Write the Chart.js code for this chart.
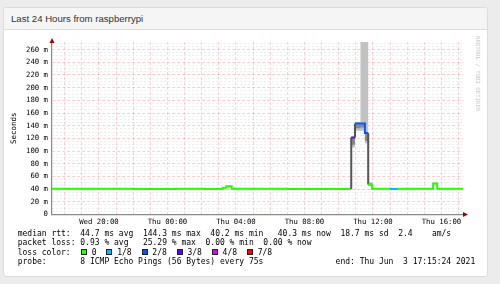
<!DOCTYPE html>
<html>
<head>
<meta charset="utf-8">
<script src="https://cdn.jsdelivr.net/npm/chart.js@4.4.0/dist/chart.umd.min.js"></script>
<style>
  html, body { margin: 0; padding: 0; }
  body { width: 500px; height: 284px; overflow: hidden; background: #ececec; position: relative; font-family: "Liberation Sans", Arial, sans-serif; }
  #card { position: absolute; left: 3px; top: 7px; width: 483px; height: 268px; background: #fff; border: 1px solid #dcdcdc; border-radius: 3px; }
  #head { height: 21px; line-height: 21px; background: #f5f5f5; border-bottom: 1px solid #dcdcdc; padding-left: 7px; font-size: 9.6px; color: #333; border-radius: 3px 3px 0 0; }
  #c { position: absolute; left: 0; top: 0; }
  .txt { position: absolute; left: 17.7px; margin: 0; font: 8px "DejaVu Sans Mono", monospace; line-height: 9.5px; color: #000; white-space: pre; }
  .box { display: inline-block; width: 4px; height: 4px; border: 1px solid #222; vertical-align: 0px; margin-right: 4.7px; }
  .item { margin-right: 10px; }
</style>
</head>
<body>
<div id="card"><div id="head">Last 24 Hours from raspberrypi</div></div>
<canvas id="c" width="500" height="284"></canvas>
<pre class="txt" style="top:228.5px">median rtt:  44.7 ms avg  144.3 ms max  40.2 ms min   40.3 ms now  18.7 ms sd  2.4    am/s</pre>
<pre class="txt" style="top:238px">packet loss: 0.93 % avg   25.29 % max  0.00 % min  0.00 % now</pre>
<div class="txt" style="top:247.5px">loss color:<span id="lossLegend" style="margin-left:10.3px"></span></div>
<pre class="txt" style="top:257px">probe:       8 ICMP Echo Pings (56 Bytes) every 75s               end: Thu Jun  3 17:15:24 2021</pre>
<script>
// x is hours since Wed 00:00, graph ends Thu 17:15:24
const startHour = 17 + 15 / 60 + 24 / 3600;
const endHour = startHour + 24;
const labelHours = [20, 24, 28, 32, 36, 40];
const labelText = ['Wed 20:00', 'Thu 00:00', 'Thu 04:00', 'Thu 08:00', 'Thu 12:00', 'Thu 16:00'];

// loss legend
const lossKeys = [0, 1, 2, 3, 4, 7];
const lossLabels = ['0', '1/8', '2/8', '3/8', '4/8', '7/8'];
const lossColors = ['#26ff00', '#00b8ff', '#0059ff', '#5e00ff', '#dd00ff', '#ff0000'];

// each step lasts until the next start (ms)
const stepStart = [startHour, 18.3, 20.4, 22.0, 24.5, 26.2, 27.22, 27.44, 27.75, 28.5, 31.0,
  34.73, 34.95, 35.27, 35.53, 35.72, 35.94, 37.0, 37.47, 39.51, 39.75];
const median = [40.8, 40.5, 40.7, 40.4, 40.6, 40.4, 42.0, 44.5, 40.8, 40.5, 40.3,
  121.5, 143.5, 143.5, 128.7, 47.5, 40.5, 40.4, 40.6, 49.0, 40.5];
const lossEighths = [0, 0, 0, 0, 0, 0, 0, 0, 0, 0, 0, 3, 2, 2, 2, 0, 0, 1, 0, 0, 0];
const smokeLo = [39.9, 39.7, 39.9, 39.6, 39.8, 39.6, 41.2, 43.5, 40.0, 39.7, 39.5,
  106, 132, 132, 112, 44.5, 39.7, 39.6, 39.8, 47, 39.7];
const smokeHi = [41.8, 41.4, 41.6, 41.3, 41.5, 41.3, 43, 45.5, 41.8, 41.4, 41.2,
  123, 146, 276, 276, 51, 41.4, 41.3, 41.5, 50.5, 41.4];
const coreLo = [40.4, 40.1, 40.3, 40.0, 40.2, 40.0, 41.6, 44.1, 40.4, 40.1, 39.9,
  110, 136, 137, 116, 46, 40.1, 40.0, 40.2, 48.2, 40.1];
const coreHi = [41.2, 40.9, 41.1, 40.8, 41.0, 40.8, 42.4, 44.9, 41.2, 40.9, 40.7,
  121, 142, 142, 128, 49, 40.9, 40.8, 41.0, 49.8, 40.9];

const lossColor = l => lossColors[lossKeys.indexOf(l)];

function stepPoints(values) {
  const pts = [];
  for (let i = 0; i < stepStart.length; i++) {
    const to = i + 1 < stepStart.length ? stepStart[i + 1] : endHour;
    pts.push({x: stepStart[i], y: values[i]}, {x: to, y: values[i]});
  }
  return pts;
}

const gridHours = [];
for (let h = Math.ceil(startHour); h <= endHour; h++) gridHours.push(h);
const yGrid = [];
for (let v = 0; v <= 270; v += 5) yGrid.push(v);

// legend boxes
const lg = document.getElementById('lossLegend');
lossLabels.forEach((t, i) => {
  lg.insertAdjacentHTML('beforeend',
    '<span class="box" style="background:' + lossColors[i] + '"></span><span class="item">' + t + '</span>');
});

const tickFont = {family: 'DejaVu Sans Mono', size: 7.3};

const decor = {
  id: 'decor',
  afterDraw(chart) {
    const {ctx, chartArea: a} = chart;
    ctx.save();
    ctx.fillStyle = '#a00000';
    ctx.beginPath();
    ctx.moveTo(a.left, a.top - 4);
    ctx.lineTo(a.left - 2.5, a.top + 1);
    ctx.lineTo(a.left + 2.5, a.top + 1);
    ctx.closePath();
    ctx.fill();
    ctx.beginPath();
    ctx.moveTo(a.right + 5, a.bottom);
    ctx.lineTo(a.right, a.bottom - 2.5);
    ctx.lineTo(a.right, a.bottom + 2.5);
    ctx.closePath();
    ctx.fill();
    ctx.translate(477.7, 36);
    ctx.rotate(Math.PI / 2);
    ctx.fillStyle = '#c4c4c4';
    ctx.font = '5.7px "DejaVu Sans Mono"';
    ctx.textBaseline = 'middle';
    ctx.fillText('RRDTOOL / TOBI OETIKER', 0, 0);
    ctx.restore();
  }
};

new Chart(document.getElementById('c'), {
  type: 'line',
  data: {
    datasets: [
      {
        label: 'median rtt',
        data: stepPoints(median),
        order: 0,
        borderWidth: 2,
        borderColor: lossColors[0],
        pointRadius: 0,
        fill: false,
        segment: {
          borderColor: c => {
            const i = Math.floor(c.p0DataIndex / 2);
            if (c.p0DataIndex % 2 === 0) return lossColor(lossEighths[i]);
            const a = median[i], b = median[i + 1];
            if (Math.abs(a - b) > 20) return '#555';
            return lossColor(lossEighths[a > b ? i : i + 1]);
          }
        }
      },
      {label: 'core hi', data: stepPoints(coreHi), order: 1, borderWidth: 0, pointRadius: 0, fill: '+1', backgroundColor: '#8a8a8a'},
      {label: 'core lo', data: stepPoints(coreLo), order: 1, borderWidth: 0, pointRadius: 0, fill: false},
      {label: 'smoke hi', data: stepPoints(smokeHi), order: 2, borderWidth: 0, pointRadius: 0, fill: '+1', backgroundColor: '#c2c2c2'},
      {label: 'smoke lo', data: stepPoints(smokeLo), order: 2, borderWidth: 0, pointRadius: 0, fill: false}
    ]
  },
  options: {
    responsive: false,
    animation: false,
    devicePixelRatio: 1,
    layout: {padding: {left: 0, right: 37, top: 42, bottom: 55.5}},
    plugins: {legend: {display: false}, tooltip: {enabled: false}},
    scales: {
      x: {
        type: 'linear',
        min: startHour,
        max: endHour,
        afterBuildTicks: s => { s.ticks = gridHours.map(v => ({value: v})); },
        afterFit: s => { s.height = 14; },
        ticks: {
          autoSkip: false, maxRotation: 0, padding: 3, font: tickFont, color: '#000',
          callback: v => { const k = labelHours.indexOf(v); return k < 0 ? '' : labelText[k]; }
        },
        grid: {color: 'rgba(255,0,0,0.17)', drawTicks: false, lineWidth: 1},
        border: {color: '#8a8a8a', width: 1.2, dash: c => c.tick ? [3, 2] : []}
      },
      y: {
        min: 0,
        max: 272,
        afterBuildTicks: s => { s.ticks = yGrid.map(v => ({value: v})); },
        afterFit: s => { s.width = 52; },
        ticks: {
          autoSkip: false, padding: 4, font: tickFont, color: '#000',
          callback: v => v % 20 ? '' : (v === 0 ? '0' : v + ' m')
        },
        grid: {
          drawTicks: false,
          color: c => c.tick && c.tick.value % 20 === 0 ? 'rgba(255,0,0,0.2)' : 'rgba(120,120,120,0.14)'
        },
        border: {color: '#8a8a8a', width: 1.2, dash: c => c.tick && c.tick.value % 20 === 0 ? [3, 2] : [2, 2]},
        title: {
          display: true, text: 'Seconds', color: '#000',
          font: {family: 'DejaVu Sans Mono', size: 7.5},
          padding: {top: 9.5, bottom: 0}
        }
      }
    }
  },
  plugins: [decor]
});
</script>
</body>
</html>
